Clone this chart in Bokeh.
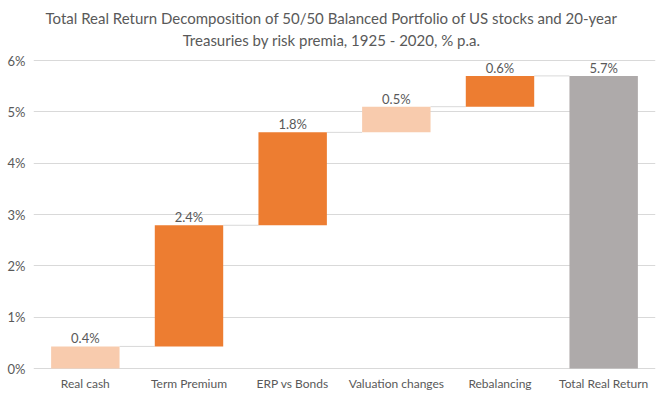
import numpy as np
from bokeh.plotting import figure
from bokeh.models import ColumnDataSource, Range1d, FixedTicker, CustomJSTickFormatter
from bokeh.core.properties import value
from bokeh.embed import file_html
from bokeh.resources import INLINE

categories = ["Real cash", "Term Premium", "ERP vs Bonds", "Valuation changes", "Rebalancing", "Total Real Return"]
steps = [0.43, 2.36, 1.81, 0.50, 0.60]
colors = ["#F8CBAD", "#ED7D31", "#ED7D31", "#F8CBAD", "#ED7D31", "#AEAAAA"]
y_ticks = [0, 1, 2, 3, 4, 5, 6]
title_lines = ["Total Real Return Decomposition of 50/50 Balanced Portfolio of US stocks and 20-year",
               "Treasuries by risk premia, 1925 - 2020, % p.a."]

FONT = "Lato"
TXT = "#595959"

# layout (pixels)
W, H = 664, 398
LEFT, RIGHT = 33, 9
TOP_PAD, BOTTOM_PAD = 60, 30           # space above 6% line / below 0% line inside frame
ppu = (H - TOP_PAD - BOTTOM_PAD) / 6.0  # pixels per percent
ppc = (W - LEFT - RIGHT) / len(categories)  # pixels per category
TITLE_CX = 331                          # page x of the title centre

cum = np.cumsum(steps)
total = float(cum[-1])
bottoms = list(np.concatenate([[0.0], cum[:-1]])) + [0.0]
tops = list(cum) + [total]
labels_val = [f"{v:.1f}%" for v in steps + [total]]
xs = [i + 0.5 for i in range(len(categories))]

src = ColumnDataSource(dict(x=xs, bottom=bottoms, top=tops, color=colors, label=labels_val,
                            cat=categories, zero=[0.0] * len(categories)))

p = figure(width=W, height=H, output_backend="svg", toolbar_location=None,
           x_range=Range1d(0, len(categories)),
           y_range=Range1d(-BOTTOM_PAD / ppu, 6 + TOP_PAD / ppu),
           min_border_left=LEFT, min_border_right=RIGHT, min_border_top=0, min_border_bottom=0)
p.outline_line_color = None
p.background_fill_color = "white"
p.border_fill_color = "white"

# connectors
bw = 0.66
cx0 = [xs[i] + bw / 2 for i in range(len(categories) - 1)]
cx1 = [xs[i + 1] - bw / 2 for i in range(len(categories) - 1)]
cy = list(cum)
p.segment(x0=cx0, x1=cx1, y0=cy, y1=cy, line_color="#D9D9D9", line_width=1)

p.vbar(x="x", bottom="bottom", top="top", width=bw, fill_color="color", line_color=None, source=src)
p.text(x="x", y="top", text="label", source=src, text_align="center", text_baseline="bottom",
       y_offset=0, text_font=value(FONT), text_font_size="13px", text_color=TXT)

# category labels below the baseline
p.text(x="x", y="zero", text="cat", source=src, text_align="center", text_baseline="middle",
       y_offset=15, text_font=value(FONT), text_font_size="12px", text_color=TXT)

# title lines
tx = (TITLE_CX - LEFT) / ppc
p.text(x=[tx, tx], y=[6, 6], text=title_lines, y_offset=[-43, -21], text_align="center",
       text_baseline="middle", text_font=value(FONT), text_font_size="15px", text_color=TXT)

p.xaxis.visible = False

p.yaxis.ticker = FixedTicker(ticks=y_ticks)
p.yaxis.formatter = CustomJSTickFormatter(code="return tick.toFixed(0) + '%';")
p.yaxis.axis_line_color = None
p.yaxis.major_tick_line_color = None
p.yaxis.minor_tick_line_color = None
p.yaxis.major_tick_out = 0
p.yaxis.major_tick_in = 0
p.yaxis.minor_tick_out = 0
p.yaxis.axis_label_standoff = 0
p.yaxis.major_label_text_font = FONT
p.yaxis.major_label_text_font_size = "13px"
p.yaxis.major_label_text_color = TXT
p.yaxis.major_label_standoff = 8

p.xgrid.grid_line_color = None
p.ygrid.grid_line_color = "#D9D9D9"
p.ygrid.ticker = FixedTicker(ticks=y_ticks)

open("out.html", "w").write(file_html(p, INLINE))
